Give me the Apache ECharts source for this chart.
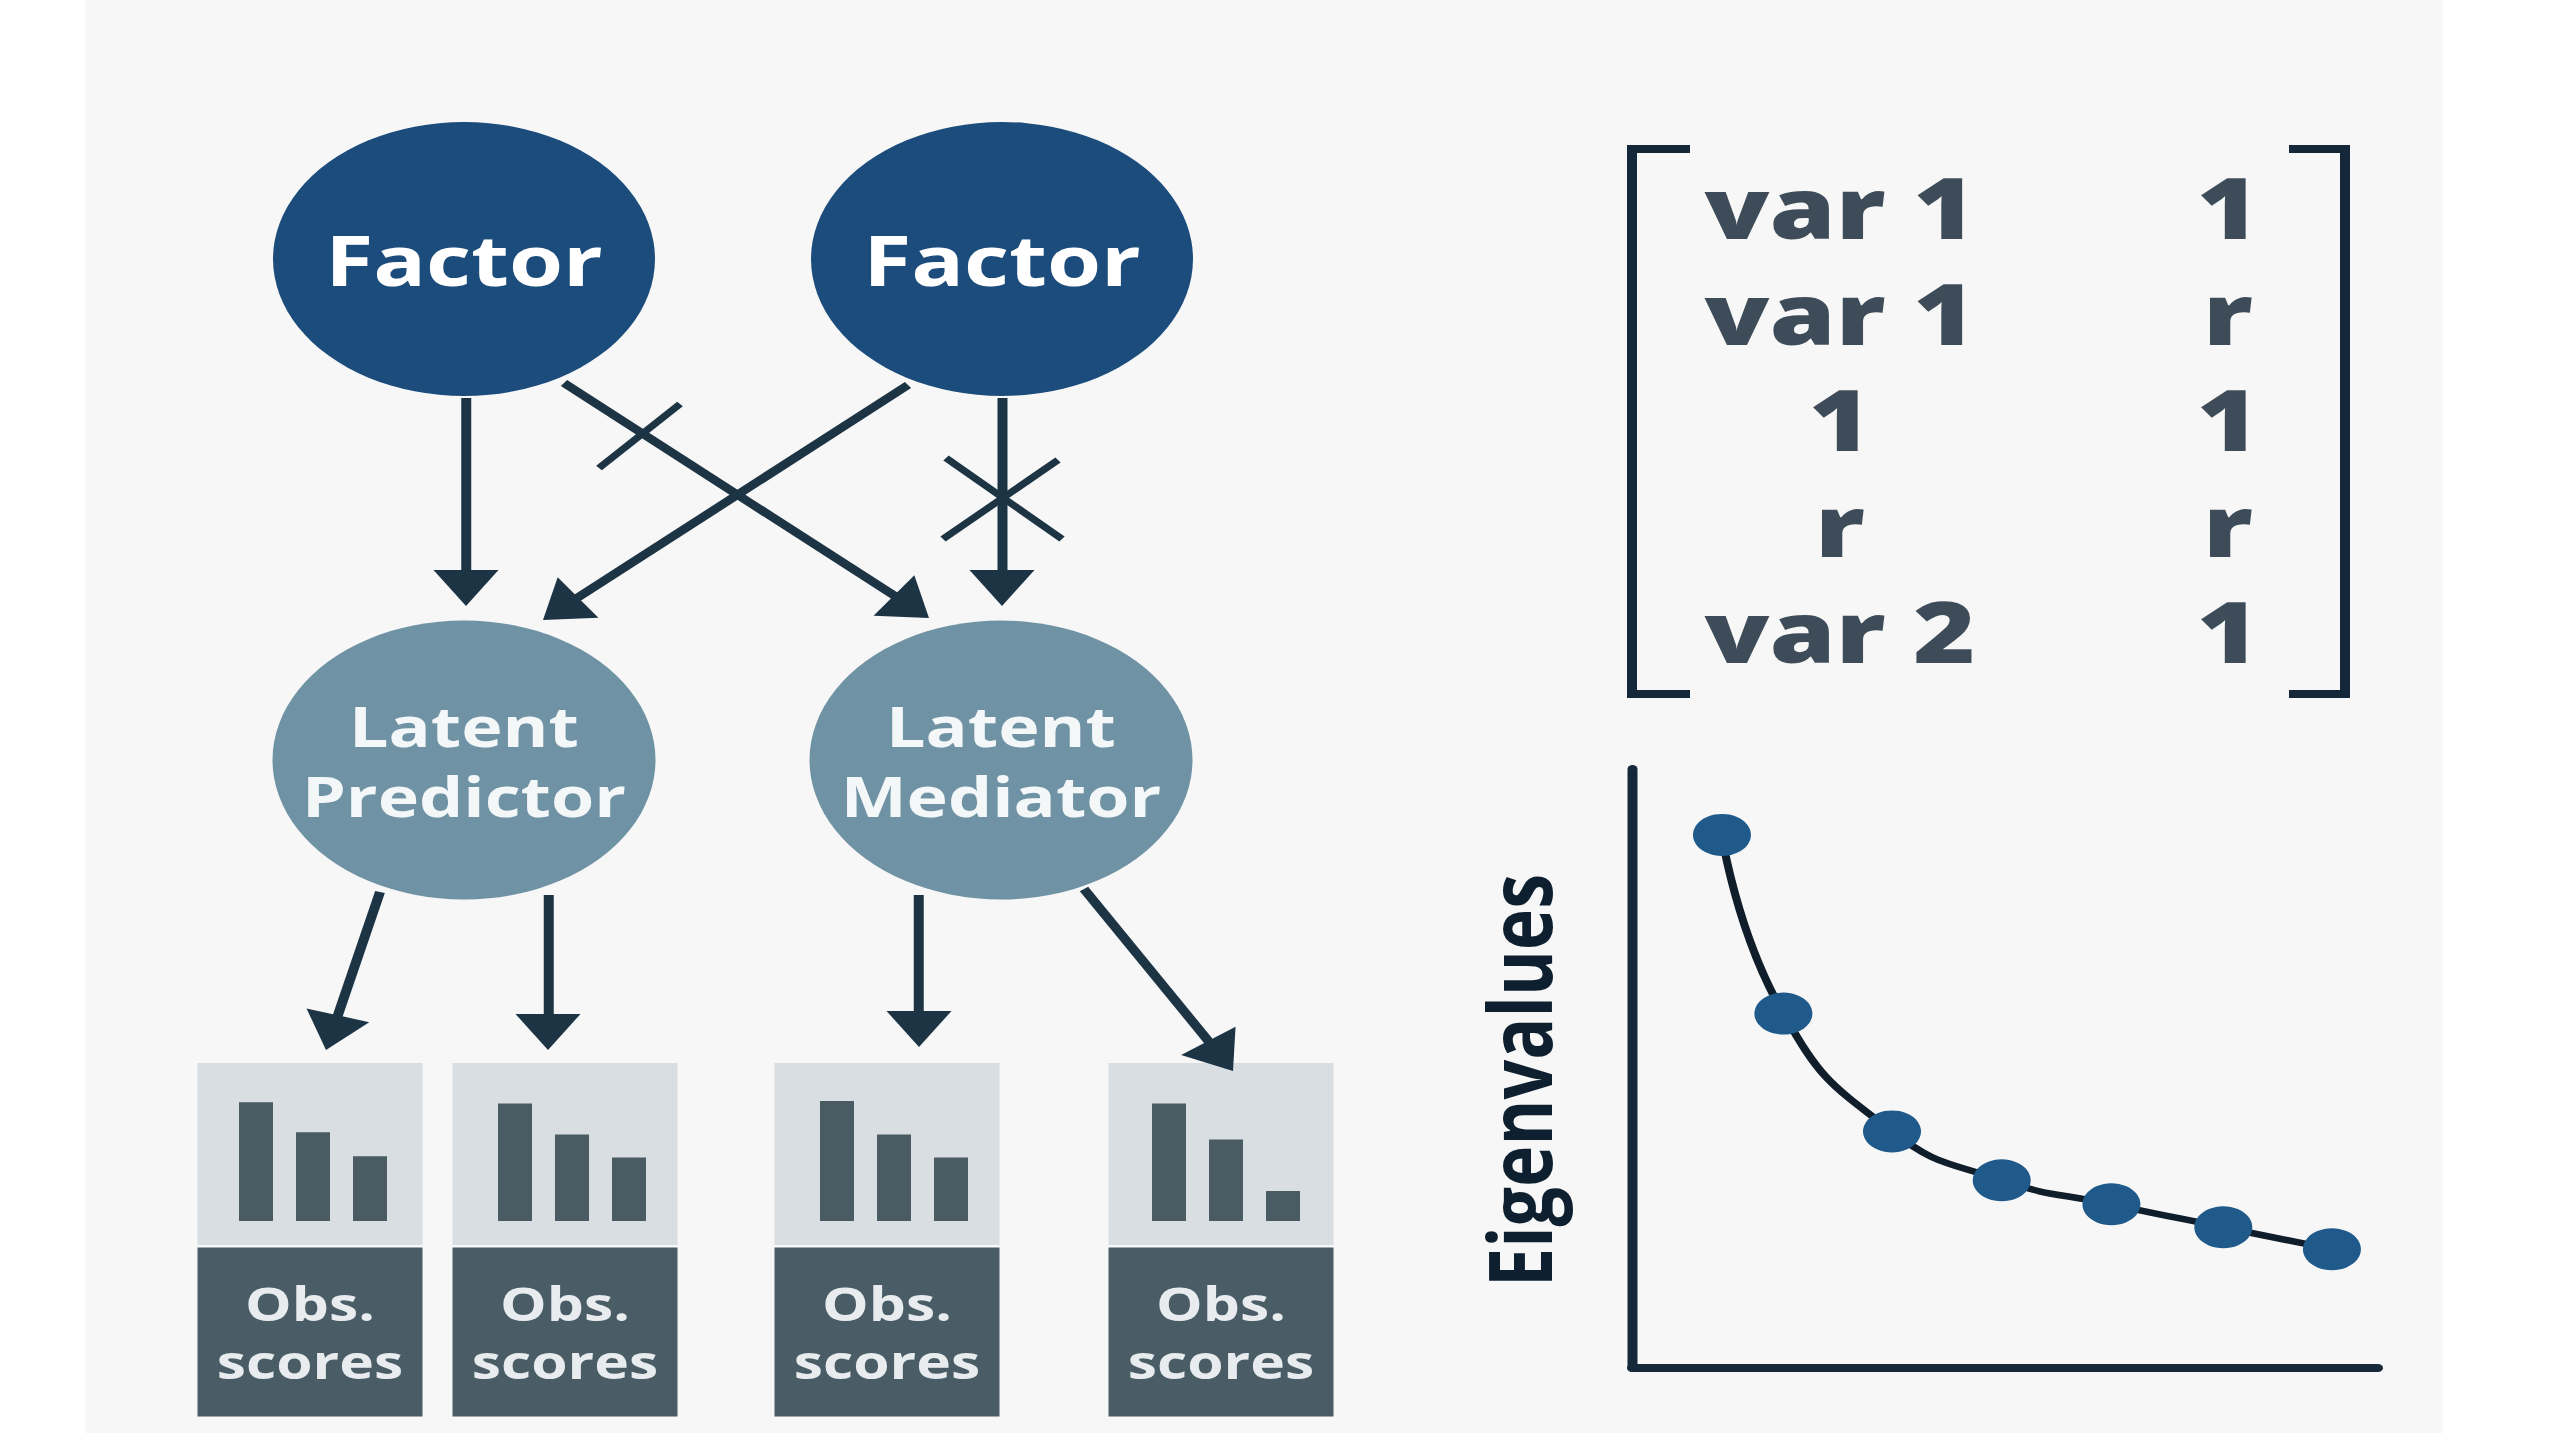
<!DOCTYPE html>
<html><head><meta charset="utf-8">
<script src="https://cdn.jsdelivr.net/npm/echarts@6/dist/echarts.min.js"></script>
<style>
html,body{margin:0;padding:0;background:#ffffff;width:2560px;height:1440px;overflow:hidden;}
#chart{width:2048px;height:1440px;transform:scaleX(1.25);transform-origin:0 0;}
</style></head><body><div id="chart"></div>
<script>
// ---------------- data ----------------
const factorLabels = ['Factor', 'Factor'];
const latentLabels = ['Latent\nPredictor', 'Latent\nMediator'];
const obsLabels = ['Obs.\nscores', 'Obs.\nscores', 'Obs.\nscores', 'Obs.\nscores'];
const barCategories = ['s1', 's2', 's3'];
const obsBars1 = [9.9, 7.4, 5.4];
const obsBars2 = [9.8, 7.2, 5.3];
const obsBars3 = [10.0, 7.2, 5.3];
const obsBars4 = [9.8, 6.8, 2.5];
const screeX = [0.82, 1.38, 2.37, 3.37, 4.37, 5.39, 6.38];
const eigenvalues = [5.34, 3.55, 2.37, 1.88, 1.64, 1.41, 1.19];
const screeAxisName = 'Eigenvalues';
const matrixColumns = ['left', 'right'];
const matrixRows = ['r1', 'r2', 'r3', 'r4', 'r5'];
const matrixCol1 = ['var 1', 'var 1', '1', 'r', 'var 2'];
const matrixCol2 = ['1', 'r', '1', 'r', '1'];

// ---------------- layout (reference pixel units, not data) ----------------
const K = 1.25;                 // horizontal stretch of the picture
const px = x => x / K;
const factorPos = [[464, 259], [1002, 259]];
const latentPos = [[464, 760], [1001, 760]];
const boxX = [310, 565, 887, 1221];
const barGroupX = [313, 572, 894, 1226];
const arrowPaths = [
  [[466, 398], [466, 606]],
  [[564, 383], [929, 618]],
  [[908, 385], [543, 620]],
  [[1002, 398], [1002, 606]],
  [[380, 892], [326, 1050]],
  [[548, 895], [548, 1050]],
  [[919, 895], [919, 1047]],
  [[1084, 889], [1233, 1071]]
];
const cutMarks = [
  [[680, 404], [599, 468]],
  [[946, 458], [1062, 539]],
  [[1058, 460], [943, 539]]
];
const bracketPaths = [
  [[1690, 149], [1632, 149], [1632, 694], [1690, 694]],
  [[2289, 149], [2345, 149], [2345, 694], [2289, 694]]
];

const HEAD = [52, 36];
const DARK = '#1d3445';
const TEXT = '#0e2030';
const FONT = "'Open Sans', 'Noto Sans', sans-serif";

// move the line end back so that the triangle tip lands on the given point
function arrowCoords(p) {
  const a = [px(p[0][0]), p[0][1]], b = [px(p[1][0]), p[1][1]];
  const dx = b[0] - a[0], dy = b[1] - a[1];
  const L = Math.sqrt(dx * dx + dy * dy);
  const e = [b[0] - dx / L * HEAD[1] / 2, b[1] - dy / L * HEAD[1] / 2];
  return [p[0], [e[0] * K, e[1]]];
}

const chart = echarts.init(document.getElementById('chart'), null, { renderer: 'svg' });

const grids = [{ left: 0, top: 0, width: 2048, height: 1440 }];
const xAxes = [{ gridIndex: 0, type: 'value', min: 0, max: 2560, show: false }];
const yAxes = [{ gridIndex: 0, type: 'value', min: 0, max: 1440, inverse: true, show: false }];
const barSets = [obsBars1, obsBars2, obsBars3, obsBars4];
const barSeries = [];
barSets.forEach((vals, i) => {
  grids.push({ left: px(barGroupX[i] - 85.5), width: px(171), top: 1101, height: 120 });
  xAxes.push({ gridIndex: i + 1, type: 'category', data: barCategories, show: false });
  yAxes.push({ gridIndex: i + 1, type: 'value', min: 0, max: 10, show: false });
  barSeries.push({
    type: 'bar', xAxisIndex: i + 1, yAxisIndex: i + 1, data: vals, barWidth: px(34), z: 3,
    itemStyle: { color: '#4a5b64' }, silent: true
  });
});
// scree grid (index 5)
grids.push({ left: px(1632), top: 769, width: px(2378) - px(1632), height: 599 });
xAxes.push({
  gridIndex: 5, type: 'value', min: 0, max: 6.8,
  axisLine: { show: true, lineStyle: { color: '#15293a', width: 8 } },
  axisTick: { show: false }, axisLabel: { show: false }, splitLine: { show: false }
});
yAxes.push({
  gridIndex: 5, type: 'value', min: 0, max: 6,
  name: screeAxisName, nameLocation: 'middle', nameRotate: 90, nameGap: 56,
  nameTextStyle: { fontSize: 70, fontWeight: 'bold', fontFamily: FONT, color: TEXT, padding: [0, 24, 0, 0] },
  axisLine: { show: true, lineStyle: { color: '#15293a', width: 8 } },
  axisTick: { show: false }, axisLabel: { show: false }, splitLine: { show: false }
});
// matrix grid (index 6)
grids.push({ left: px(1646), top: 153, width: px(776), height: 530 });
xAxes.push({ gridIndex: 6, type: 'category', data: matrixColumns, show: false });
yAxes.push({ gridIndex: 6, type: 'category', data: matrixRows, inverse: true, show: false });

const matrixLabel = { show: true, position: 'inside', formatter: '{b}', color: TEXT,
  fontFamily: FONT, fontWeight: 800, fontSize: 85 };

const option = {
  backgroundColor: 'transparent',
  animation: false,
  graphic: [{
    type: 'rect', z: -100, silent: true,
    shape: { x: px(85), y: 0, width: px(2443 - 85), height: 1433 },
    style: { fill: '#f7f7f7' }
  }],
  grid: grids, xAxis: xAxes, yAxis: yAxes,
  series: [
    {
      type: 'lines', coordinateSystem: 'cartesian2d', xAxisIndex: 0, yAxisIndex: 0, z: 4,
      symbol: ['none', 'triangle'], symbolSize: [[1, 1], HEAD],
      lineStyle: { color: DARK, width: 8, opacity: 1 },
      itemStyle: { color: DARK },
      data: arrowPaths.map(p => ({ coords: arrowCoords(p) })), silent: true
    },
    {
      type: 'lines', coordinateSystem: 'cartesian2d', xAxisIndex: 0, yAxisIndex: 0, z: 4,
      symbol: 'none', lineStyle: { color: DARK, width: 6.5, opacity: 1 },
      data: cutMarks.map(p => ({ coords: p })), silent: true
    },
    {
      type: 'lines', coordinateSystem: 'cartesian2d', xAxisIndex: 0, yAxisIndex: 0, z: 4,
      polyline: true, symbol: 'none', lineStyle: { color: '#14283a', width: 8, opacity: 1, join: 'miter', cap: 'butt' },
      data: bracketPaths.map(p => ({ coords: p })), silent: true
    },
    {
      type: 'scatter', xAxisIndex: 0, yAxisIndex: 0, z: 5, symbol: 'circle',
      itemStyle: { color: '#1b4c7c', opacity: 1 },
      label: { show: true, position: 'inside', formatter: '{b}', color: '#ffffff',
        fontFamily: FONT, fontWeight: 'bold', fontSize: 70 },
      data: factorLabels.map((t, i) => ({ name: t, value: factorPos[i], symbolSize: [px(382), 274] })),
      silent: true
    },
    {
      type: 'scatter', xAxisIndex: 0, yAxisIndex: 0, z: 5, symbol: 'circle',
      itemStyle: { color: '#6f93a4', opacity: 1 },
      label: { show: true, position: 'inside', formatter: '{b}', color: '#f4f7f8',
        fontFamily: FONT, fontWeight: 'bold', fontSize: 56, lineHeight: 70 },
      data: latentLabels.map((t, i) => ({ name: t, value: latentPos[i], symbolSize: [px(383), 279] })),
      silent: true
    },
    {
      type: 'scatter', xAxisIndex: 0, yAxisIndex: 0, z: 1, symbol: 'rect',
      itemStyle: { color: '#d8dee1', opacity: 1 },
      data: boxX.map(x => ({ value: [x, 1154], symbolSize: [px(225), 182] })), silent: true
    },
    {
      type: 'scatter', xAxisIndex: 0, yAxisIndex: 0, z: 1, symbol: 'rect',
      itemStyle: { color: '#4a5c66', opacity: 1 },
      label: { show: true, position: 'inside', formatter: '{b}', color: '#e8ecee',
        fontFamily: FONT, fontWeight: 'bold', fontSize: 47, lineHeight: 58 },
      data: obsLabels.map((t, i) => ({ name: t, value: [boxX[i], 1332], symbolSize: [px(225), 169] })),
      silent: true
    },
    ...barSeries,
    {
      type: 'line', xAxisIndex: 5, yAxisIndex: 5, z: 3, smooth: 0.5,
      data: screeX.map((x, i) => [x, eigenvalues[i]]),
      lineStyle: { color: '#0f1e2a', width: 6.5 },
      symbol: 'circle', symbolSize: [px(58), 42], showAllSymbol: true,
      itemStyle: { color: '#1f5a8b', opacity: 1 }, silent: true
    },
    {
      type: 'scatter', xAxisIndex: 6, yAxisIndex: 6, z: 5, symbolSize: 1,
      itemStyle: { color: 'rgba(0,0,0,0)' }, label: matrixLabel,
      data: matrixCol1.map((t, i) => ({ name: t, value: [0, i] })), silent: true
    },
    {
      type: 'scatter', xAxisIndex: 6, yAxisIndex: 6, z: 5, symbolSize: 1,
      itemStyle: { color: 'rgba(0,0,0,0)' }, label: matrixLabel,
      data: matrixCol2.map((t, i) => ({ name: t, value: [1, i] })), silent: true
    }
  ]
};
chart.setOption(option);
</script></body></html>
